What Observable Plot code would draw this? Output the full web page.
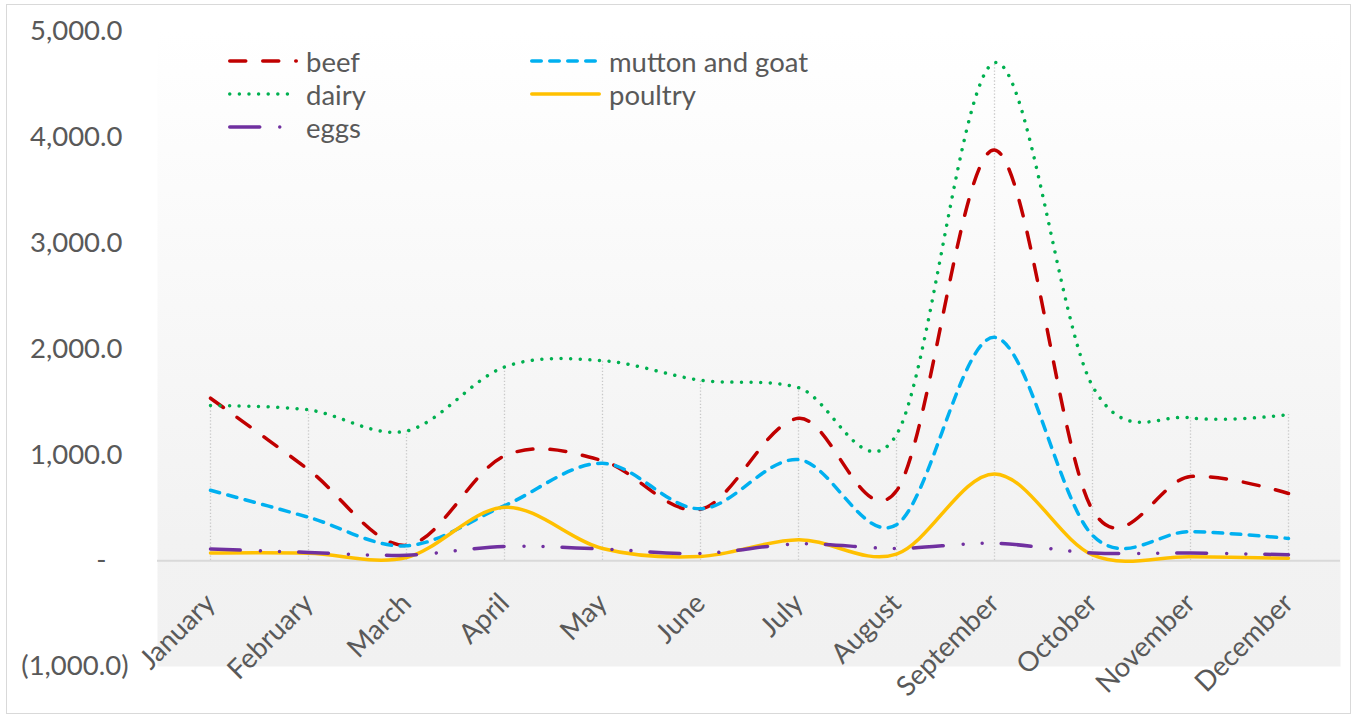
<!DOCTYPE html>
<html>
<head>
<meta charset="utf-8">
<script src="https://cdn.jsdelivr.net/npm/d3@7"></script>
<script src="https://cdn.jsdelivr.net/npm/@observablehq/plot@0.6"></script>
<style>
  html, body { margin: 0; padding: 0; background: #ffffff; }
  #wrap { position: relative; width: 1356px; height: 717px; overflow: hidden; font-family: Lato, "Open Sans", sans-serif; }
  #border { position: absolute; left: 6px; top: 4px; width: 1345px; height: 710px; border: 1.5px solid #d9d9d9; box-sizing: border-box; }
  #chart { position: absolute; left: 0; top: 0; }
  #chart svg { max-width: none; background: transparent; }
  .leg { position: absolute; display: flex; align-items: center; font-size: 27.5px; color: #595959; white-space: nowrap; }
  .leg svg { display: block; margin-right: 8px; overflow: visible; }
</style>
</head>
<body>
<div id="wrap">
  <div id="border"></div>
  <div id="chart"></div>
  <div id="legend"></div>
</div>
<script>
// ---- data ----
const months = ["January","February","March","April","May","June","July","August","September","October","November","December"];
const beef    = [1535, 860, 145, 990, 945, 485, 1345, 660, 3880, 480, 795, 635];
const mutton  = [665, 410, 140, 520, 920, 490, 955, 340, 2110, 240, 275, 210];
const dairy   = [1465, 1425, 1225, 1830, 1890, 1705, 1635, 1190, 4705, 1650, 1350, 1380];
const poultry = [72, 70, 30, 505, 115, 40, 198, 62, 820, 55, 38, 22];
const eggs    = [110, 78, 52, 135, 110, 68, 158, 116, 164, 73, 72, 56];
const yTicks  = [5000, 4000, 3000, 2000, 1000, 0, -1000];
const seriesNames = ["beef", "mutton and goat", "dairy", "poultry", "eggs"];

// ---- styles ----
const seriesStyle = {
  "beef":            {stroke: "#C00000", dash: "16 17"},
  "mutton and goat": {stroke: "#00B0F0", dash: "9.5 8.5"},
  "dairy":           {stroke: "#00B050", dash: "0.01 9.6"},
  "poultry":         {stroke: "#FFC000", dash: null},
  "eggs":            {stroke: "#7030A0", dash: "30 20 0.01 19 0.01 19"}
};
const seriesValues = {"beef": beef, "mutton and goat": mutton, "dairy": dairy, "poultry": poultry, "eggs": eggs};

const rows = name => months.map((m, i) => ({month: m, value: seriesValues[name][i]}));
const fmt = d3.format(",.1f");
const FS = 27.5;
const lineMarks = seriesNames.map(name => Plot.lineY(rows(name), {
  x: "month", y: "value", curve: "cardinal",
  stroke: seriesStyle[name].stroke, strokeWidth: 3.5,
  strokeDasharray: seriesStyle[name].dash || undefined,
  strokeLinecap: "round", strokeLinejoin: "round"
}));

const chart = Plot.plot({
  width: 1356, height: 717,
  marginLeft: 157, marginRight: 16, marginTop: 31, marginBottom: 51,
  x: {type: "point", domain: months, padding: 0.5, axis: null},
  y: {domain: [-1000, 5000], axis: null},
  style: {fontFamily: "Lato, 'Open Sans', sans-serif", color: "#595959", background: "transparent"},
  marks: [
    Plot.frame({fill: "url(#bgGrad)", stroke: "none"}),
    Plot.ruleX(rows("dairy"), {x: "month", y1: 0, y2: "value", stroke: "#c8c8c8", strokeWidth: 1.3, strokeDasharray: "1.3 2"}),
    Plot.ruleY([0], {stroke: "#d9d9d9", strokeWidth: 2}),
    Plot.text(yTicks.filter(d => d > 0), {y: d => d, frameAnchor: "left", dx: -35, textAnchor: "end", text: d => fmt(d), fontSize: FS, fill: "#595959"}),
    Plot.text(yTicks.filter(d => d === 0), {y: d => d, frameAnchor: "left", dx: -51, textAnchor: "end", text: d => "-", fontSize: FS, fill: "#595959"}),
    Plot.text(yTicks.filter(d => d < 0), {y: d => d, frameAnchor: "left", dx: -29, textAnchor: "end", text: d => "(" + fmt(-d) + ")", fontSize: FS, fill: "#595959"}),
    ...lineMarks,
    Plot.text(months, {x: d => d, y: 0, text: d => d, rotate: -45, textAnchor: "end", dx: 0, dy: 38, fontSize: FS, fill: "#595959"})
  ]
});

d3.select(chart).insert("defs", ":first-child").html(
  '<linearGradient id="bgGrad" x1="0" y1="0" x2="0" y2="1">' +
  '<stop offset="0" stop-color="#ffffff"/>' +
  '<stop offset="0.8" stop-color="#f2f2f2"/>' +
  '<stop offset="1" stop-color="#f1f1f1"/>' +
  '</linearGradient>');
document.getElementById("chart").appendChild(chart);

// ---- legend ----
const legendPos = {
  "beef":            {left: 228, top: 61, len: 70},
  "mutton and goat": {left: 530, top: 61, len: 71},
  "dairy":           {left: 228, top: 94, len: 70},
  "poultry":         {left: 530, top: 94, len: 71},
  "eggs":            {left: 228, top: 127, len: 70}
};
const legend = document.getElementById("legend");
seriesNames.forEach(name => {
  const p = legendPos[name], s = seriesStyle[name];
  const div = document.createElement("div");
  div.className = "leg";
  div.style.left = p.left + "px";
  div.style.top = (p.top - 17) + "px";
  div.style.height = "34px";
  div.innerHTML = `<svg width="${p.len}" height="10"><line x1="1.75" y1="5" x2="${p.len - 1.75}" y2="5" stroke="${s.stroke}" stroke-width="3.5" stroke-linecap="round" ${s.dash ? `stroke-dasharray="${s.dash}"` : ""}/></svg><span>${name}</span>`;
  legend.appendChild(div);
});
</script>
</body>
</html>
